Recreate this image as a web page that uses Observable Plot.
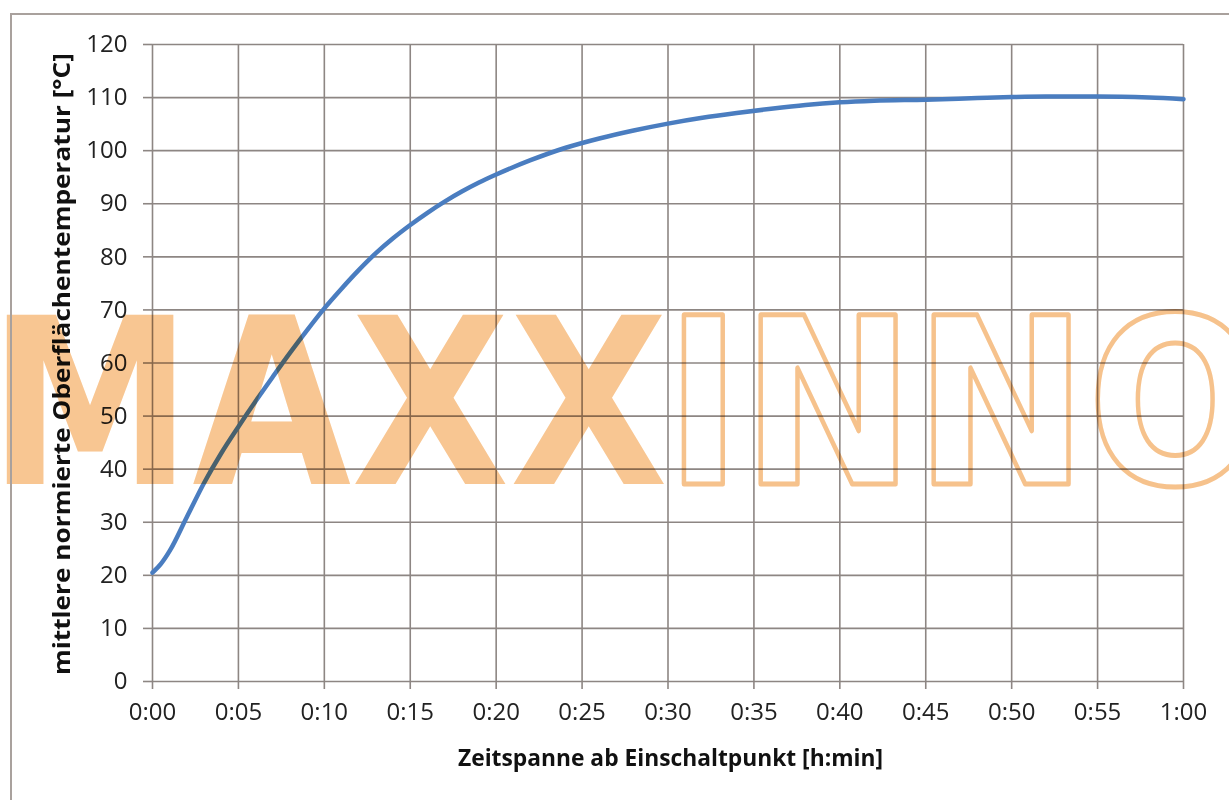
<!DOCTYPE html>
<html>
<head>
<meta charset="utf-8">
<script src="https://cdn.jsdelivr.net/npm/d3@7"></script>
<script src="https://cdn.jsdelivr.net/npm/@observablehq/plot@0.6"></script>
<style>
  html, body { margin: 0; padding: 0; background: #fff; }
  #chart { position: relative; width: 1229px; height: 800px; overflow: hidden; }
</style>
</head>
<body>
<div id="chart"></div>
<script>
// Time in minutes since switch-on
const minutes = [0, 0.5, 1, 2, 3, 4, 5, 6, 7, 8, 9, 10, 11, 12, 13, 14, 15, 16, 17, 18, 19, 20, 22, 24, 26, 28, 30, 32, 34, 36, 38, 40, 42, 45, 48, 50, 52, 55, 58, 60];
// Mean normalised surface temperature [°C]
const temperature = [20.5, 22.2, 24.6, 31, 37.4, 43, 48, 52.8, 57.4, 61.9, 66.2, 70.3, 74, 77.5, 80.7, 83.5, 86, 88.3, 90.4, 92.3, 94, 95.5, 98.2, 100.5, 102.3, 103.8, 105.1, 106.2, 107.1, 107.9, 108.6, 109.1, 109.4, 109.6, 109.9, 110.1, 110.2, 110.2, 110.0, 109.7];
const xTicks = [0, 5, 10, 15, 20, 25, 30, 35, 40, 45, 50, 55, 60];
const yTicks = [0, 10, 20, 30, 40, 50, 60, 70, 80, 90, 100, 110, 120];
const xLabel = "Zeitspanne ab Einschaltpunkt [h:min]";
const yLabel = "mittlere normierte Oberflächentemperatur [°C]";
const watermarkA = "MAXX";
const watermarkB = "INNO";

const data = minutes.map((m, i) => ({m, t: temperature[i]}));
const fmt = m => `${Math.floor(m / 60)}:${String(m % 60).padStart(2, "0")}`;
const gridColor = "#8d8683";

const plot = Plot.plot({
  width: 1229,
  height: 800,
  marginLeft: 152,
  marginRight: 46,
  marginTop: 44,
  marginBottom: 119,
  style: {fontFamily: "'Open Sans', sans-serif", fontSize: "24px", color: "#222", background: "transparent"},
  x: {domain: [0, 60], ticks: xTicks, tickFormat: fmt},
  y: {domain: [0, 120], ticks: yTicks},
  marks: [
    Plot.gridX(xTicks, {stroke: gridColor, strokeOpacity: 1, strokeWidth: 1.6}),
    Plot.gridY(yTicks, {stroke: gridColor, strokeOpacity: 1, strokeWidth: 1.6}),
    Plot.axisX(xTicks, {tickSize: 8, tickPadding: 13, stroke: gridColor, strokeWidth: 1.6, tickFormat: fmt, label: null, fontSize: 24, fill: "#222"}),
    Plot.axisY(yTicks, {tickSize: 9, tickPadding: 16, stroke: gridColor, strokeWidth: 1.6, label: null, fontSize: 24, fill: "#222"}),
    Plot.line(data, {x: "m", y: "t", stroke: "#4a7dc0", strokeWidth: 4.5, curve: "monotone-x"})
  ]
});

const svg = d3.select(plot);
// Axis titles
svg.append("text")
  .attr("x", 458).attr("y", 766)
  .attr("text-anchor", "start")
  .attr("font-family", "'Open Sans', sans-serif")
  .attr("font-weight", "bold").attr("font-size", 22.5).attr("fill", "#111")
  .attr("textLength", 425).attr("lengthAdjust", "spacingAndGlyphs")
  .text(xLabel);
svg.append("text")
  .attr("transform", "translate(70,675) rotate(-90)")
  .attr("text-anchor", "start")
  .attr("font-family", "'Open Sans', sans-serif")
  .attr("font-weight", "bold").attr("font-size", 22.5).attr("fill", "#111")
  .attr("textLength", 622).attr("lengthAdjust", "spacingAndGlyphs")
  .text(yLabel);

// Watermark overlay
const wm = svg.append("g").style("mix-blend-mode", "multiply").attr("text-anchor", "start");
wm.append("text")
  .attr("x", -12).attr("y", 484)
  .attr("text-anchor", "start")
  .attr("font-family", "'DejaVu Sans', sans-serif").attr("font-weight", "bold")
  .attr("font-size", 232)
  .attr("textLength", 680).attr("lengthAdjust", "spacingAndGlyphs")
  .attr("fill", "#f8c692")
  .text(watermarkA);
wm.append("text")
  .attr("x", 665).attr("y", 484)
  .attr("text-anchor", "start")
  .attr("font-family", "'DejaVu Sans', sans-serif").attr("font-weight", "bold")
  .attr("font-size", 232)
  .attr("textLength", 598).attr("lengthAdjust", "spacingAndGlyphs")
  .attr("fill", "none").attr("stroke", "#f6c28c").attr("stroke-width", 5).attr("stroke-linejoin", "round")
  .text(watermarkB);

// Frame
svg.append("path")
  .attr("d", "M11,800 L11,14 L1229,14")
  .attr("fill", "none").attr("stroke", "#a9a19d").attr("stroke-width", 2);

document.getElementById("chart").appendChild(plot);
</script>
</body>
</html>
